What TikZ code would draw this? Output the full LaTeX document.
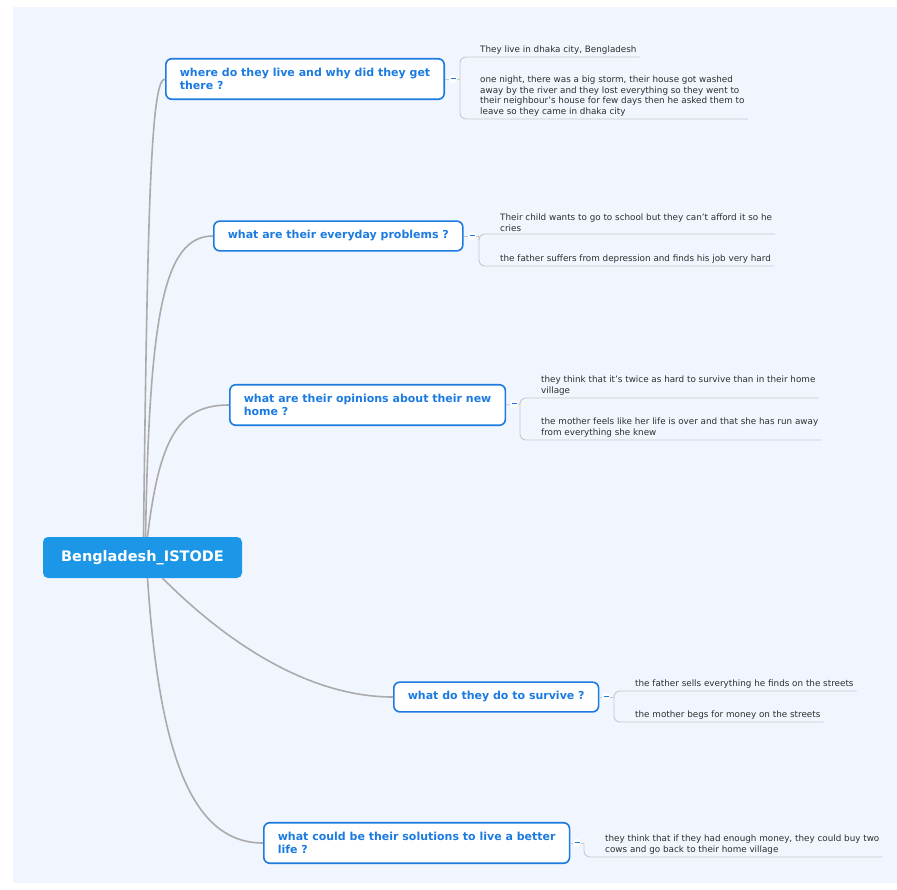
\documentclass[tikz,border=0pt]{standalone}
\usepackage{fontspec}
\setmainfont{DejaVu Sans}
\usetikzlibrary{positioning}

\definecolor{bgpage}{HTML}{F1F5FD}
\definecolor{rootblue}{HTML}{1C96E6}
\definecolor{topicblue}{HTML}{1C7BE0}
\definecolor{branchgray}{HTML}{ABABAB}
\definecolor{leafgray}{HTML}{C6C8CE}
\definecolor{leaftext}{HTML}{2E2E2E}

\tikzset{
    root/.style={rectangle, rounded corners=5, fill=rootblue, text=white,
        minimum width=199, minimum height=41,
        font=\fontsize{14.5}{16}\selectfont\bfseries},
    topic/.style={rectangle, rounded corners=6, draw=topicblue, line width=1.6,
        fill=white, text=topicblue, align=left, anchor=west,
        inner xsep=14, inner ysep=9.5,
        font=\fontsize{11}{13}\selectfont\bfseries},
    leaf/.style={anchor=south west, inner xsep=3, inner ysep=2.5, align=left,
        text=leaftext, font=\fontsize{8.8}{10.5}\selectfont},
    branch/.style={draw=branchgray, line width=1.6},
    twig/.style={draw=leafgray, line width=0.9, rounded corners=6},
    fold/.style={circle, fill=white, inner sep=0, minimum size=8}
}

\begin{document}
\begin{tikzpicture}[x=1pt, y=-1pt]
    \useasboundingbox (0,0) rectangle (897,890);
    \fill[bgpage] (13,7) rectangle (897,883);

    \node[root] (root) at (142.5,557.5) {Bengladesh\_ISTODE};

    \node[topic] (where) at (165,79) {where do they live and why did they get\\there ?};
    \node[topic] (problems) at (213,236) {what are their everyday problems ?};
    \node[topic] (opinions) at (229,405) {what are their opinions about their new\\home ?};
    \node[topic] (survive) at (393,697) {what do they do to survive ?};
    \node[topic] (solutions) at (263,843) {what could be their solutions to live a better\\life ?};

    \draw[branch] ([xshift=1]root.north) .. controls +(4,-330) and +(-14,0) .. (where.west);
    \draw[branch] ([xshift=3]root.north) .. controls +(4,-220) and +(-50,0) .. (problems.west);
    \draw[branch] ([xshift=5]root.north) .. controls +(12,-100) and +(-50,0) .. (opinions.west);
    \draw[branch] ([xshift=20]root.south) .. controls +(70,70) and +(-80,0) .. (survive.west);
    \draw[branch] ([xshift=5]root.south) .. controls +(12,180) and +(-70,0) .. (solutions.west);

    % leaves
    \node[leaf] (l11) at (477,57) {They live in dhaka city, Bengladesh};
    \node[leaf] (l12) at (477,119) {one night, there was a big storm, their house got washed\\away by the river and they lost everything so they went to\\their neighbour's house for few days then he asked them to\\leave so they came in dhaka city};
    \node[leaf] (l21) at (497,234) {Their child wants to go to school but they can't afford it so he\\cries};
    \node[leaf] (l22) at (497,266) {the father suffers from depression and finds his job very hard};
    \node[leaf] (l31) at (538,398) {they think that it's twice as hard to survive than in their home\\village};
    \node[leaf] (l32) at (538,440) {the mother feels like her life is over and that she has run away\\from everything she knew};
    \node[leaf] (l41) at (632,691) {the father sells everything he finds on the streets};
    \node[leaf] (l42) at (632,722) {the mother begs for money on the streets};
    \node[leaf] (l51) at (602,857) {they think that if they had enough money, they could buy two\\cows and go back to their home village};

    \coordinate (j1) at (460,79);
    \coordinate (j2) at (479,236);
    \coordinate (j3) at (520,404);
    \coordinate (j4) at (614,697);
    \coordinate (j5) at (584,843);

    \draw[twig] (where.east) -- (j1);
    \draw[twig] (j1) |- (l11.south east);
    \draw[twig] (j1) |- (l12.south east);
    \draw[twig] (problems.east) -- (j2);
    \draw[twig] (j2) |- (l21.south east);
    \draw[twig] (j2) |- (l22.south east);
    \draw[twig] (opinions.east) -- (j3);
    \draw[twig] (j3) |- (l31.south east);
    \draw[twig] (j3) |- (l32.south east);
    \draw[twig] (survive.east) -- (j4);
    \draw[twig] (j4) |- (l41.south east);
    \draw[twig] (j4) |- (l42.south east);
    \draw[twig] (solutions.east) -- (j5);
    \draw[twig] (j5) |- (l51.south east);

    % fold markers
    \foreach \name/\pos in {f1/{(453,79)}, f2/{(472,236)}, f3/{(514,404)}, f4/{(606,697)}, f5/{(577,843)}}
        \node[fold] (\name) at \pos {\textcolor{topicblue}{\rule[0.6pt]{5pt}{1.3pt}}};
\end{tikzpicture}
\end{document}
